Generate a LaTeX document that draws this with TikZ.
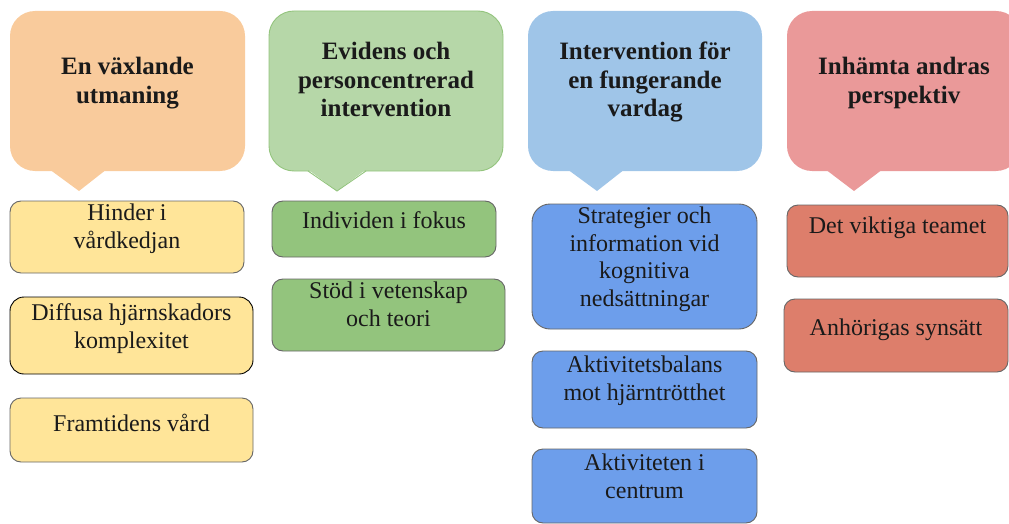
\documentclass[tikz,border=0pt]{standalone}
\usepackage{fontspec}
\setmainfont{Liberation Serif}
\usepackage{tikz}

\begin{document}
\begin{tikzpicture}[
    x=1pt,
    y=-1pt,
    head/.style={
        align=center,
        anchor=north,
        inner sep=0pt,
        text=txt,
        font=\fontsize{25}{28.5}\selectfont\bfseries,
        execute at begin node=\strut
    },
    item/.style={
        draw=edge,
        line width=0.9pt,
        rounded corners=11pt,
        anchor=north west,
        inner sep=0pt,
        outer sep=0pt
    },
    itemtext/.style={
        align=center,
        anchor=north,
        inner sep=0pt,
        text=txt,
        font=\fontsize{24}{27.5}\selectfont,
        execute at begin node=\strut
    }]
    \definecolor{txt}{RGB}{26, 26, 26}
    \definecolor{edge}{RGB}{102, 102, 102}
    \definecolor{orangebg}{RGB}{249, 203, 156}
    \definecolor{greenbg}{RGB}{182, 215, 168}
    \definecolor{greenline}{RGB}{147, 196, 125}
    \definecolor{bluebg}{RGB}{159, 197, 232}
    \definecolor{redbg}{RGB}{234, 153, 153}
    \definecolor{yel}{RGB}{255, 229, 153}
    \definecolor{grn}{RGB}{147, 196, 125}
    \definecolor{blu}{RGB}{109, 158, 235}
    \definecolor{rd}{RGB}{221, 126, 107}

    \useasboundingbox (0,0) rectangle (1009,524);
    \clip (0,0) rectangle (1009,524);

    \fill[orangebg, rounded corners=25pt] (10,11) rectangle (245,171);
    \fill[orangebg] (49,169) -- (79,191) -- (107,169) -- cycle;

    \draw[greenline, fill=greenbg, line width=0.9pt, rounded corners=25pt] (269,11) rectangle (503,171);
    \fill[greenbg] (308,169.5) -- (337,191) -- (366,169.5) -- cycle;
    \draw[greenline, line width=0.9pt] (308,171) -- (337,191) -- (366,171);

    \fill[bluebg, rounded corners=25pt] (528,11) rectangle (762,171);
    \fill[bluebg] (567,169) -- (597,191) -- (625,169) -- cycle;

    \fill[redbg, rounded corners=25pt] (787,11) rectangle (1021,171);
    \fill[redbg] (825,169) -- (854,191) -- (883,169) -- cycle;

    \node[head] (cat1) at (127.5,57) {En växlande\\utmaning};
    \node[head] (cat2) at (386,42) {Evidens och\\personcentrerad\\intervention};
    \node[head] (cat3) at (645,42) {Intervention för\\en fungerande\\vardag};
    \node[head] (cat4) at (904,57) {Inhämta andras\\perspektiv};

    \node[item, fill=yel, minimum width=234pt, minimum height=72pt] (hinder) at (10,201) {};
    \node[item, fill=yel, draw=black, rounded corners=14pt, minimum width=243pt, minimum height=77pt] (diffusa) at (10,297) {};
    \node[item, fill=yel, minimum width=243pt, minimum height=64pt] (framtid) at (10,398) {};

    \node[item, fill=grn, minimum width=224pt, minimum height=56pt] (individ) at (272,201) {};
    \node[item, fill=grn, minimum width=233pt, minimum height=72pt] (stod) at (272,279) {};

    \node[item, fill=blu, rounded corners=18pt, minimum width=225pt, minimum height=125pt] (strategi) at (532,204) {};
    \node[item, fill=blu, minimum width=225pt, minimum height=77pt] (balans) at (532,351) {};
    \node[item, fill=blu, minimum width=225pt, minimum height=74pt] (centrum) at (532,449) {};

    \node[item, fill=rd, minimum width=221pt, minimum height=72pt] (team) at (787,205) {};
    \node[item, fill=rd, minimum width=224pt, minimum height=73pt] (anhorig) at (784,299) {};

    \node[itemtext] (hindertxt) at (127,203.75) {Hinder i\\vårdkedjan};
    \node[itemtext] (diffusatxt) at (131.5,303.75) {Diffusa hjärnskadors\\komplexitet};
    \node[itemtext] (framtidtxt) at (131.5,411.75) {Framtidens vård};

    \node[itemtext] (individtxt) at (384,208.75) {Individen i fokus};
    \node[itemtext] (stodtxt) at (388.5,281.75) {Stöd i vetenskap\\och teori};

    \node[itemtext] (strategitxt) at (644.5,206.75) {Strategier och\\information vid\\kognitiva\\nedsättningar};
    \node[itemtext] (balanstxt) at (644.5,355.75) {Aktivitetsbalans\\mot hjärntrötthet};
    \node[itemtext] (centrumtxt) at (644.5,453.75) {Aktiviteten i\\centrum};

    \node[itemtext] (teamtxt) at (897.5,213.75) {Det viktiga teamet};
    \node[itemtext] (anhorigtxt) at (896,315.75) {Anhörigas synsätt};
\end{tikzpicture}
\end{document}
